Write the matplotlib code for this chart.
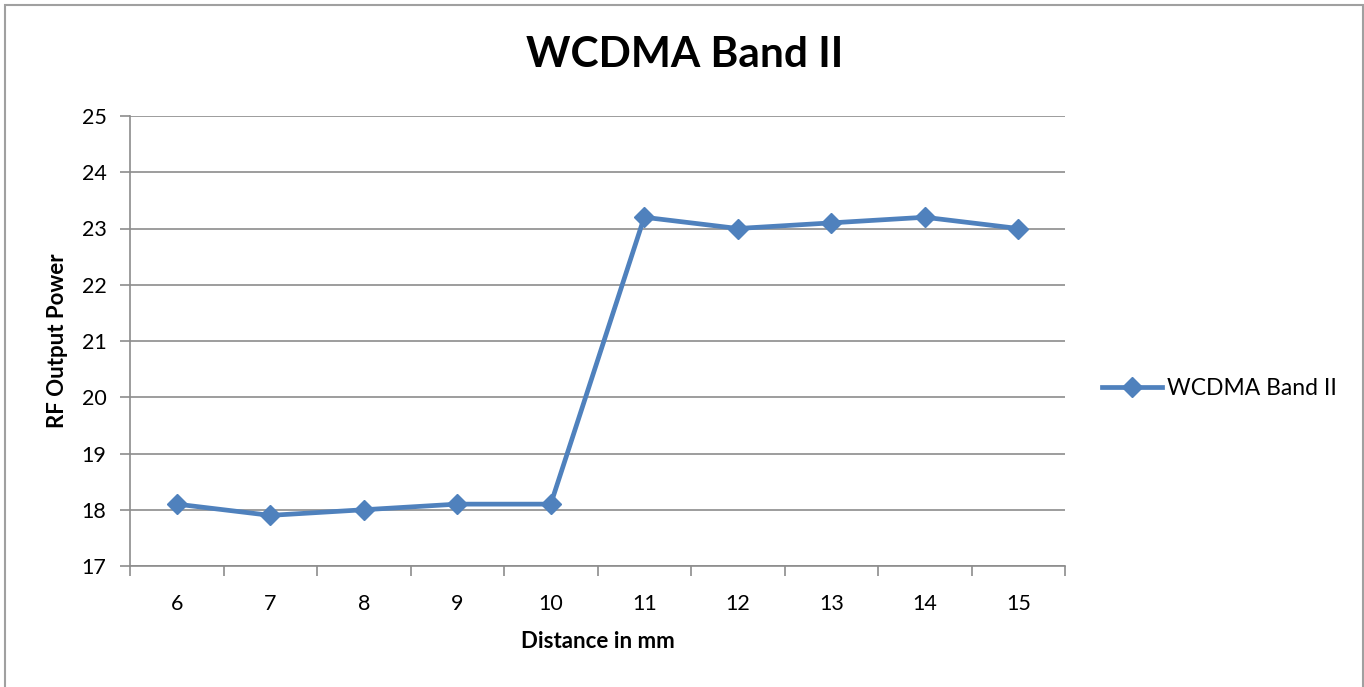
import matplotlib.pyplot as plt
from matplotlib.patches import Rectangle

# данные с графика
distance = [6, 7, 8, 9, 10, 11, 12, 13, 14, 15]
rf_power = [18.1, 17.9, 18.0, 18.1, 18.1, 23.2, 23.0, 23.1, 23.2, 23.0]
series_name = "WCDMA Band II"

plt.rcParams['font.family'] = ['Lato', 'DejaVu Sans']

W, H = 1364, 687
fig = plt.figure(figsize=(W / 100, H / 100), dpi=100)
ax = fig.add_axes([130 / W, 1 - 566 / H, (1065 - 130) / W, (566 - 116) / H])

blue = '#4F81BD'
grid_c = '#8C8C8C'

x = list(range(len(distance)))
line, = ax.plot(x, rf_power, color=blue, lw=3.4, marker='D', markersize=10.5,
                markeredgecolor=blue, label=series_name, zorder=3)

ax.set_xlim(-0.5, len(distance) - 0.5)
ax.set_ylim(17, 25)
ax.set_yticks(range(17, 26))
ax.set_xticks(x)
ax.set_xticklabels([str(d) for d in distance])
ax.set_xticks([i - 0.5 for i in range(len(distance) + 1)], minor=True)

ax.grid(axis='y', color=grid_c, lw=1.2, zorder=0)
for s in ['top', 'right']:
    ax.spines[s].set_visible(False)
for s in ['left', 'bottom']:
    ax.spines[s].set_color(grid_c)
    ax.spines[s].set_linewidth(1.2)

ax.tick_params(axis='x', which='major', length=0, labelsize=15.5, pad=20)
ax.tick_params(axis='x', which='minor', length=7, color=grid_c, width=1.2)
ax.tick_params(axis='y', length=7, color=grid_c, width=1.2, labelsize=15.5, pad=10)

ax.set_xlabel("Distance in mm", fontsize=16, fontweight='bold')
ax.xaxis.set_label_coords(598 / W, 1 - 641 / H, transform=fig.transFigure)
ax.set_ylabel("RF Output Power", fontsize=16, fontweight='bold')
ax.yaxis.set_label_coords(57 / W, 1 - 341 / H, transform=fig.transFigure)
ax.xaxis.label.set_va('center')
ax.yaxis.label.set_va('center')

fig.text(685 / W, 1 - 55 / H, "WCDMA Band II", fontsize=30.5, fontweight='bold',
         ha='center', va='center')

ax.legend(handles=[line], loc='center left', bbox_to_anchor=(1102 / W, 1 - 389 / H),
          bbox_transform=fig.transFigure, frameon=False, fontsize=16.5,
          handlelength=2.6, handletextpad=0.25, borderpad=0, borderaxespad=0)

# рамка области диаграммы
fig.add_artist(Rectangle((5 / W, -0.05), (1363 - 5) / W, 1.05 - 5 / H,
                         transform=fig.transFigure, fill=False,
                         edgecolor='#A0A0A0', lw=1.5))

fig.savefig("out.png", dpi=100)
